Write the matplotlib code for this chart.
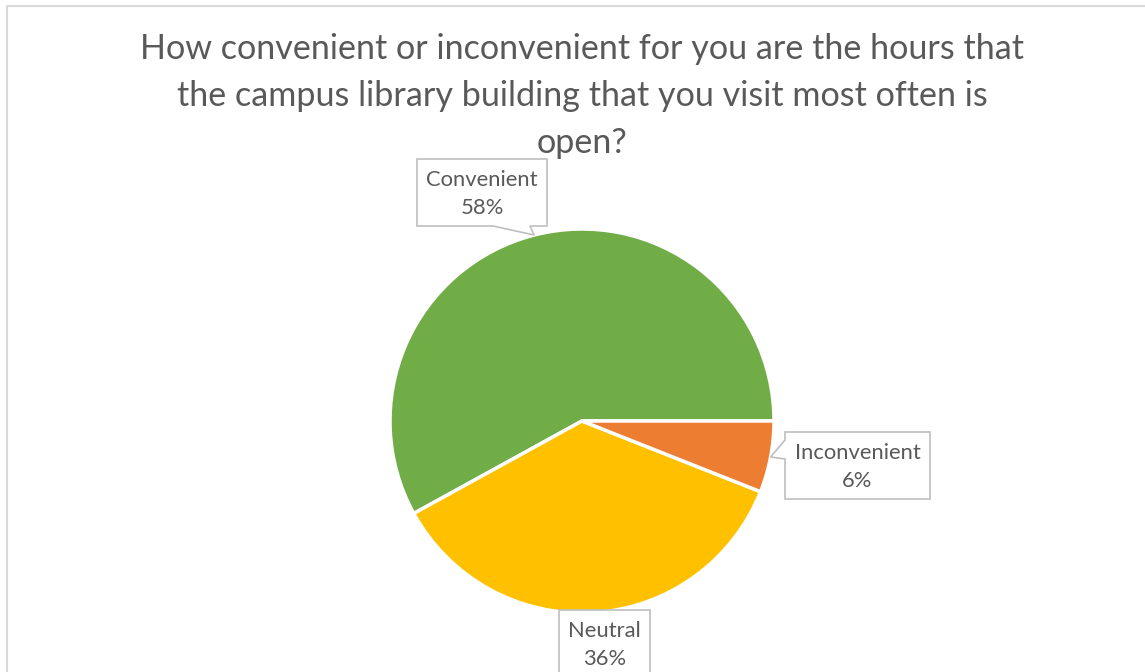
import matplotlib
matplotlib.use("Agg")
import matplotlib.pyplot as plt
from matplotlib.patches import Polygon
import numpy as np

title = "How convenient or inconvenient for you are the hours that\nthe campus library building that you visit most often is\nopen?"
categories = ["Convenient", "Neutral", "Inconvenient"]
values = [58, 36, 6]
colors = ["#70AD47", "#FFC000", "#ED7D31"]

W, H = 1145, 672
fig = plt.figure(figsize=(W / 100, H / 100), dpi=100)
ax = fig.add_axes([0, 0, 1, 1])

cx, cy, R = 582, H - 421, 192
wedges, _ = ax.pie(values, colors=colors, startangle=0, counterclock=True,
                   center=(cx, cy), radius=R, frame=True,
                   wedgeprops=dict(edgecolor="white", linewidth=2.5))
ax.set_xlim(0, W)
ax.set_ylim(0, H)
ax.set_aspect("equal")
ax.axis("off")

# chart border (top & left visible)
ax.plot([6.5, 6.5, W + 5], [-5, H - 5.5, H - 5.5], color="#D9D9D9", lw=1.5, clip_on=False)

fig.text(582 / W, 1 - 96 / H, title, ha="center", va="center", fontsize=24.6,
         color="#595959", family="Lato", linespacing=1.56)

gray = "#595959"
border = "#BFBFBF"

def tip(w):
    th = np.deg2rad((w.theta1 + w.theta2) / 2)
    return cx + R * np.cos(th), cy + R * np.sin(th)

def P(x, y):
    return (x, H - y)

# box specs in pixel (top-left origin): left, top, right, bottom, pointer side
boxes = {
    "Convenient": (417, 159, 547, 226, "bottom", (493, 530)),
    "Neutral": (559, 610, 650, 690, None, None),
    "Inconvenient": (785, 432, 930, 499, "left", (440, 459)),
}

for w, cat, v in zip(wedges, categories, values):
    l, t, r, b, side, rng = boxes[cat]
    tx, ty = tip(w)
    if side == "bottom":
        pts = [P(l, t), P(r, t), P(r, b), P(rng[1], b), (tx, ty), P(rng[0], b), P(l, b)]
    elif side == "left":
        pts = [P(l, t), P(r, t), P(r, b), P(l, b), P(l, rng[1]), (tx, ty), P(l, rng[0])]
    else:
        pts = [P(l, t), P(r, t), P(r, b), P(l, b)]
    ax.add_patch(Polygon(pts, closed=True, facecolor="white", edgecolor=border,
                         lw=1.2, zorder=5, clip_on=False))
    ax.text((l + r) / 2, H - (t + 35), f"{cat}\n{v}%", ha="center", va="center",
            fontsize=15.8, color=gray, family="Lato", linespacing=1.45, zorder=6)

fig.savefig("out.png", dpi=100)
